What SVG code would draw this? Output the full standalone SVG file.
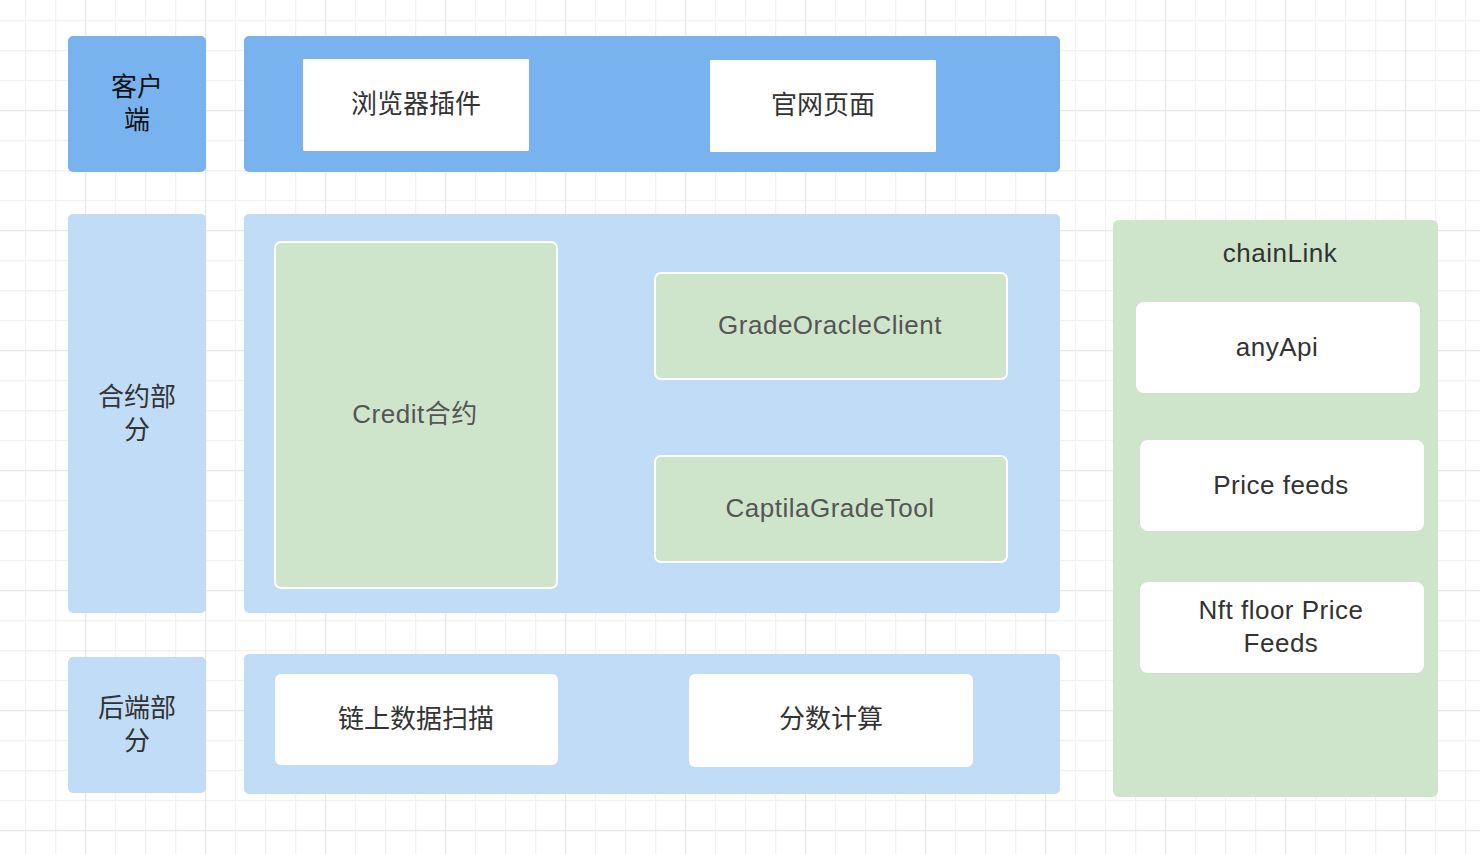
<svg xmlns="http://www.w3.org/2000/svg" width="1480" height="854" viewBox="0 0 1480 854">
<defs>
<pattern id="minor" x="25" y="20" width="30" height="30" patternUnits="userSpaceOnUse">
<path d="M0 0V30M0 0H30" fill="none" stroke="#f2f2f2" stroke-width="2.5"/>
</pattern>
<pattern id="major" x="85" y="110" width="120" height="120" patternUnits="userSpaceOnUse">
<path d="M0 0V120M0 0H120" fill="none" stroke="#e9e9e9" stroke-width="2.5"/>
</pattern>
</defs>
<style>
text{font-family:"Liberation Sans","Noto Sans CJK SC",sans-serif;font-size:26px;text-anchor:middle;dominant-baseline:central;fill:#333}
.lt{letter-spacing:0.5px}
.dark{fill:#79b3ef}
.light{fill:#c0dcf7}
.green{fill:#cfe5cb}
.gnode{fill:#cfe5cb;stroke:#fff;stroke-width:2}
.white{fill:#fff}
.gt{fill:#555}
.bk{fill:#111}
</style>
<rect width="1480" height="854" fill="#fff"/>
<rect width="1480" height="854" fill="url(#minor)"/>
<rect width="1480" height="854" fill="url(#major)"/>

<g id="client-label"><rect class="dark" x="68" y="36" width="138" height="136" rx="5"/><text class="bk" x="137" y="87">客户</text><text class="bk" x="137" y="120">端</text></g>
<g id="client-layer"><rect class="dark" x="244" y="36" width="816" height="136" rx="5"/></g>
<g id="browser-plugin"><rect class="white" x="303" y="59" width="226" height="92" rx="1"/><text x="416" y="104">浏览器插件</text></g>
<g id="website"><rect class="white" x="710" y="60" width="226" height="92" rx="1"/><text x="823" y="105">官网页面</text></g>

<g id="contract-label"><rect class="light" x="68" y="214" width="138" height="399" rx="5"/><text x="137" y="397">合约部</text><text x="137" y="430">分</text></g>
<g id="contract-layer"><rect class="light" x="244" y="214" width="816" height="399" rx="5"/></g>
<g id="credit"><rect class="gnode" x="275" y="242" width="282" height="346" rx="6"/><text class="gt lt" x="415" y="414">Credit合约</text></g>
<g id="grade-oracle"><rect class="gnode" x="655" y="273" width="352" height="106" rx="6"/><text class="gt lt" x="830" y="325">GradeOracleClient</text></g>
<g id="captila"><rect class="gnode" x="655" y="456" width="352" height="106" rx="6"/><text class="gt lt" x="830" y="508">CaptilaGradeTool</text></g>

<g id="backend-label"><rect class="light" x="68" y="657" width="138" height="136" rx="5"/><text x="137" y="708">后端部</text><text x="137" y="741">分</text></g>
<g id="backend-layer"><rect class="light" x="244" y="654" width="816" height="140" rx="5"/></g>
<g id="scan"><rect class="white" x="275" y="674" width="283" height="91" rx="6"/><text x="416" y="719">链上数据扫描</text></g>
<g id="score"><rect class="white" x="689" y="674" width="284" height="93" rx="6"/><text x="831" y="719">分数计算</text></g>

<g id="chainlink"><rect class="green" x="1113" y="220" width="325" height="577" rx="6"/><text class="lt" x="1280" y="253">chainLink</text></g>
<g id="anyapi"><rect class="white" x="1136" y="302" width="284" height="91" rx="8"/><text class="lt" x="1277" y="347">anyApi</text></g>
<g id="price-feeds"><rect class="white" x="1140" y="440" width="284" height="91" rx="8"/><text class="lt" x="1281" y="485">Price feeds</text></g>
<g id="nft-feeds"><rect class="white" x="1140" y="582" width="284" height="91" rx="8"/><text class="lt" x="1281" y="610">Nft floor Price</text><text class="lt" x="1281" y="643">Feeds</text></g>

<g id="connectors"></g>
</svg>
